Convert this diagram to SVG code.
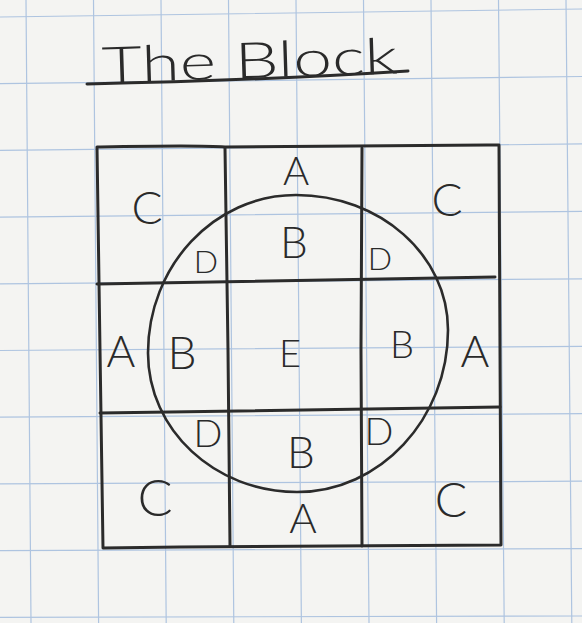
<svg xmlns="http://www.w3.org/2000/svg" width="582" height="623" viewBox="0 0 582 623">
<style>
.grid{stroke:#aec4e0;stroke-width:1.2;fill:none}
.ink{stroke:#2b2b2b;fill:none;stroke-linecap:round;stroke-linejoin:round}
.lbl{font-family:Lato,"Liberation Sans",Arial,sans-serif;font-weight:300;fill:#2a2a2a;text-anchor:middle}
</style>
<rect width="582" height="623" fill="#f4f4f2"/>
<g id="grid">
<path class="grid" d="M26,0L31,623M93.5,0L98.6,623M161,0L166.2,623M228.5,0L233.8,623M296,0L301.4,623M363.5,0L369,623M431,0L436.6,623M498.5,0L504.2,623M566,0L571.8,623"/>
<path class="grid" d="M0,17L582,9M0,83.7L582,76.5M0,150.4L582,143.9M0,217.1L582,211.4M0,283.8L582,278.8M0,350.5L582,346.3M0,417.2L582,413.7M0,483.9L582,481.2M0,550.6L582,548.6M0,617.3L582,616"/>
</g>
<g id="title">
<text class="lbl" x="250" y="78" font-size="50" font-weight="400" textLength="296" lengthAdjust="spacingAndGlyphs" transform="rotate(-1.8 250 70)">The Block</text>
<path class="ink" stroke-width="3" d="M87,84 C180,82 300,78 408,71"/>
</g>
<g id="block">
<path class="ink" stroke-width="3" d="M97,147 C150,146 200,145 225,147 C300,147 400,145 499,145 L500,350 L501,545 C400,546 250,546 180,547 L103,548 L100,350 Z"/>
<path class="ink" stroke-width="3" d="M225,148 L228,350 L230,546"/>
<path class="ink" stroke-width="3" d="M362,148 L361,350 L362,546"/>
<path class="ink" stroke-width="3" d="M97,284 C200,282 350,280 495,277"/>
<path class="ink" stroke-width="3" d="M100,413 C200,411 350,409 500,407"/>
</g>
<g id="circle">
<path class="ink" stroke-width="2.6" d="M296,195 C380,195 448,255 448,330 C448,419 380,492 297,492 C215,492 148,430 148,353 C148,266 214,195 296,195 Z"/>
</g>
<g id="labels">
<text class="lbl" x="147" y="224" font-size="46">C</text>
<text class="lbl" x="296" y="185" font-size="40">A</text>
<text class="lbl" x="447" y="216" font-size="46">C</text>
<text class="lbl" x="294" y="258" font-size="44">B</text>
<text class="lbl" x="206" y="273" font-size="32">D</text>
<text class="lbl" x="380" y="270" font-size="32">D</text>
<text class="lbl" x="121" y="367" font-size="44">A</text>
<text class="lbl" x="182" y="369" font-size="46">B</text>
<text class="lbl" x="290" y="367" font-size="38">E</text>
<text class="lbl" x="402" y="358" font-size="38">B</text>
<text class="lbl" x="475" y="367" font-size="44">A</text>
<text class="lbl" x="208" y="447" font-size="38">D</text>
<text class="lbl" x="379" y="445" font-size="38">D</text>
<text class="lbl" x="301" y="468" font-size="44">B</text>
<text class="lbl" x="155" y="516" font-size="52">C</text>
<text class="lbl" x="303" y="533" font-size="42">A</text>
<text class="lbl" x="451" y="517" font-size="48">C</text>
</g>
</svg>
